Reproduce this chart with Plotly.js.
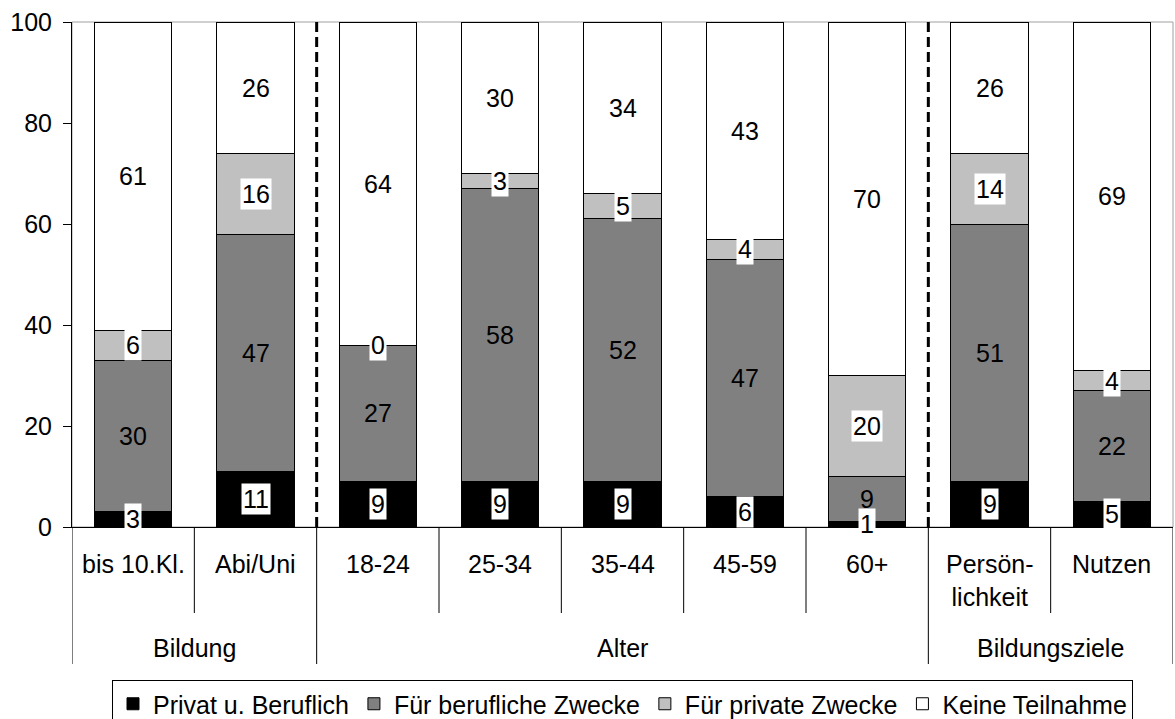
<!DOCTYPE html>
<html>
<head>
<meta charset="utf-8">
<script src="https://cdn.plot.ly/plotly-3.0.1.min.js"></script>
<style>html,body{margin:0;padding:0;background:#fff;}#chart{width:1175px;height:719px;}</style>
</head>
<body>
<div id="chart"></div>
<script>
// ---- data ----
const categories = ["bis 10.Kl.", "Abi/Uni", "18-24", "25-34", "35-44", "45-59", "60+", "Persön-<br>lichkeit", "Nutzen"];
const groups = ["Bildung", "Alter", "Bildungsziele"];
const groupSizes = [2, 5, 2];
const seriesNames = ["Privat u. Beruflich", "Für berufliche Zwecke", "Für private Zwecke", "Keine Teilnahme"];
const privatBeruflich = [3, 11, 9, 9, 9, 6, 1, 9, 5];
const beruflicheZwecke = [30, 47, 27, 58, 52, 47, 9, 51, 22];
const privateZwecke = [6, 16, 0, 3, 5, 4, 20, 14, 4];
const keineTeilnahme = [61, 26, 64, 30, 34, 43, 70, 26, 69];
const yTicks = [0, 20, 40, 60, 80, 100];

// ---- styling ----
const colors = ["#000000", "#808080", "#C0C0C0", "#FFFFFF"];
const boxed = [true, false, true, false];
const FONT = "'Liberation Sans', Arial, sans-serif";
const FS = 25;

const series = [privatBeruflich, beruflicheZwecke, privateZwecke, keineTeilnahme];
const xs = categories.map((_, i) => i);

const traces = series.map((vals, s) => ({
  type: "bar",
  name: seriesNames[s],
  x: xs,
  y: vals,
  width: 0.63,
  marker: { color: colors[s], line: { color: "#000", width: 1 } },
  hoverinfo: "skip"
}));

const annotations = [];
// value labels
const base = xs.map(() => 0);
series.forEach((vals, s) => {
  vals.forEach((v, i) => {
    annotations.push({
      x: i, y: base[i] + v / 2, xref: "x", yref: "y",
      text: String(v), showarrow: false,
      font: { family: FONT, size: FS, color: "#000" },
      bgcolor: boxed[s] ? "#FFFFFF" : "rgba(0,0,0,0)",
      borderpad: 1,
      xanchor: "center", yanchor: "middle"
    });
    base[i] += v;
  });
});
// category labels
categories.forEach((c, i) => {
  const multi = c.indexOf("<br>") >= 0;
  annotations.push({
    x: i, y: 0, xref: "x", yref: "paper",
    text: c, showarrow: false,
    font: { family: FONT, size: FS, color: "#000" },
    xanchor: "center", yanchor: "middle",
    yshift: multi ? -53 : -37
  });
});
// group labels & separators
const shapes = [];
let start = 0;
const groupBounds = [-0.5];
groups.forEach((g, k) => {
  const end = start + groupSizes[k] - 1;
  annotations.push({
    x: (start + end) / 2, y: 0, xref: "x", yref: "paper",
    text: g, showarrow: false,
    font: { family: FONT, size: FS, color: "#000" },
    xanchor: "center", yanchor: "middle", yshift: -121
  });
  groupBounds.push(end + 0.5);
  start = end + 1;
});
const H = 505;
for (let b = -0.5; b <= categories.length - 0.5 + 1e-9; b += 1) {
  const outer = groupBounds.some(g => Math.abs(g - b) < 1e-6);
  shapes.push({
    type: "line", xref: "x", yref: "paper",
    x0: b, x1: b, y0: 0, y1: outer ? -(664 - 527) / H : -(613 - 527) / H,
    line: { color: "#000", width: 1 }
  });
}
// dashed separators inside plot
groupBounds.slice(1, -1).forEach(b => {
  shapes.push({
    type: "line", xref: "x", yref: "y",
    x0: b, x1: b, y0: 0, y1: 100,
    line: { color: "#000", width: 3, dash: "10px,5px" }
  });
});
// light gray plot border (top/right)
shapes.push({
  type: "rect", xref: "paper", yref: "paper", x0: 0, x1: 1, y0: 0, y1: 1,
  line: { color: "#A0A0A0", width: 1 }, layer: "below"
});

const layout = {
  width: 1175, height: 719,
  margin: { l: 72, r: 2, t: 22, b: 192, autoexpand: false },
  paper_bgcolor: "#fff", plot_bgcolor: "#fff",
  barmode: "stack",
  font: { family: FONT, size: FS, color: "#000" },
  xaxis: {
    range: [-0.5, categories.length - 0.5],
    showticklabels: false, ticks: "", showgrid: false, zeroline: false,
    showline: true, linecolor: "#000", linewidth: 1, fixedrange: true,
    automargin: false
  },
  yaxis: {
    range: [0, 100], tickvals: yTicks, ticktext: yTicks.map(String),
    ticks: "outside", ticklen: 8, tickcolor: "#000", tickwidth: 1,
    ticklabelstandoff: 6,
    showgrid: false, zeroline: false,
    showline: true, linecolor: "#000", linewidth: 1,
    tickfont: { family: FONT, size: FS, color: "#000" },
    fixedrange: true, automargin: false
  },
  showlegend: true,
  legend: {
    orientation: "h", x: 0.5, xanchor: "center",
    y: -(680 - 527) / H, yanchor: "top",
    bordercolor: "#000", borderwidth: 1,
    font: { family: FONT, size: FS, color: "#000" },
    traceorder: "normal", itemwidth: 30
  },
  annotations: annotations,
  shapes: shapes
};

Plotly.newPlot("chart", traces, layout, { displayModeBar: false, staticPlot: true });
</script>
</body>
</html>
